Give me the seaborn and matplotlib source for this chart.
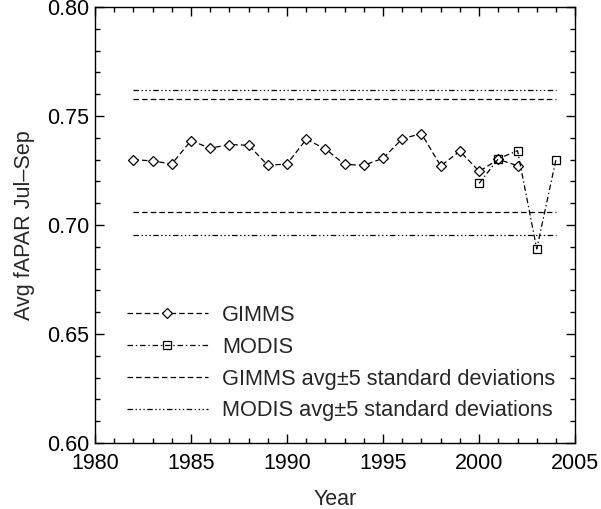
import matplotlib
matplotlib.use('Agg')
import matplotlib.pyplot as plt
import numpy as np
import pandas as pd
import seaborn as sns

gimms_years = list(range(1982, 2003))
gimms_fapar = [0.730, 0.7294, 0.728, 0.7387, 0.7352, 0.7369, 0.7366, 0.7274,
               0.728, 0.7393, 0.7349, 0.7278, 0.7274, 0.7306, 0.7396, 0.7419,
               0.7271, 0.7339, 0.7246, 0.7301, 0.7272]
modis_years = [2000, 2001, 2002, 2003, 2004]
modis_fapar = [0.7191, 0.7304, 0.7341, 0.689, 0.730]

band_years = [1982, 2004]
gimms_band = [0.7061, 0.7576]
modis_band = [0.6954, 0.7621]

sns.set_style('ticks')
plt.rcParams['font.family'] = ['Liberation Sans', 'DejaVu Sans']
plt.rcParams['font.size'] = 15.5
plt.rcParams['lines.scale_dashes'] = False

fig = plt.figure(figsize=(6.01, 5.09), dpi=100)
ax = fig.add_axes([0.158, 0.1297, 0.799, 0.8565])

dash = (0, (4, 2.2))
dashdot = (0, (4, 2, 1, 2))
dashdot3 = (0, (4, 1.8, 1, 1.8, 1, 1.8, 1, 1.8))

gimms = pd.DataFrame({'year': gimms_years, 'fapar': gimms_fapar})
modis = pd.DataFrame({'year': modis_years, 'fapar': modis_fapar})

sns.lineplot(data=gimms, x='year', y='fapar', ax=ax, color='black',
             linewidth=0.9, linestyle=dash, marker='D', markersize=5.2,
             markerfacecolor='white', markeredgecolor='black',
             markeredgewidth=0.9, label='GIMMS')
sns.lineplot(data=modis, x='year', y='fapar', ax=ax, color='black',
             linewidth=0.9, linestyle=dashdot, marker='s', markersize=5.8,
             markerfacecolor='none', markeredgecolor='black',
             markeredgewidth=0.9, label='MODIS')

for i, v in enumerate(gimms_band):
    ax.plot(band_years, [v, v], color='black', linewidth=0.9, linestyle=dash,
            label='GIMMS avg\u00b15 standard deviations' if i == 0 else None)
for i, v in enumerate(modis_band):
    ax.plot(band_years, [v, v], color='black', linewidth=0.9,
            linestyle=dashdot3,
            label='MODIS avg\u00b15 standard deviations' if i == 0 else None)

ax.set_xlim(1980, 2005)
ax.set_ylim(0.60, 0.80)
ax.set_xticks([1980, 1985, 1990, 1995, 2000, 2005])
ax.set_xticks(np.arange(1980, 2006, 1), minor=True)
ax.set_yticks([0.60, 0.65, 0.70, 0.75, 0.80])
ax.set_yticks(np.arange(0.60, 0.805, 0.01), minor=True)
ax.set_yticklabels(['0.60', '0.65', '0.70', '0.75', '0.80'])
ax.tick_params(which='both', direction='in', top=True, right=True,
               width=1, colors='black', labelsize=15.5)
ax.tick_params(which='major', length=6.5)
ax.tick_params(which='minor', length=3.3)
ax.tick_params(axis='x', pad=7)
ax.tick_params(axis='y', pad=4)
for s in ax.spines.values():
    s.set_linewidth(1)
    s.set_color('black')

ax.set_xlabel('Year', fontsize=15.5, labelpad=11)
ax.set_ylabel('Avg fAPAR Jul\u2013Sep', fontsize=15.5, labelpad=9)

ax.legend(loc='lower left', bbox_to_anchor=(0.067, 0.05), frameon=False,
          handlelength=3.7, handletextpad=0.65, labelspacing=0.49,
          borderpad=0, borderaxespad=0, fontsize=15.7)

fig.savefig('out.png', dpi=100)
